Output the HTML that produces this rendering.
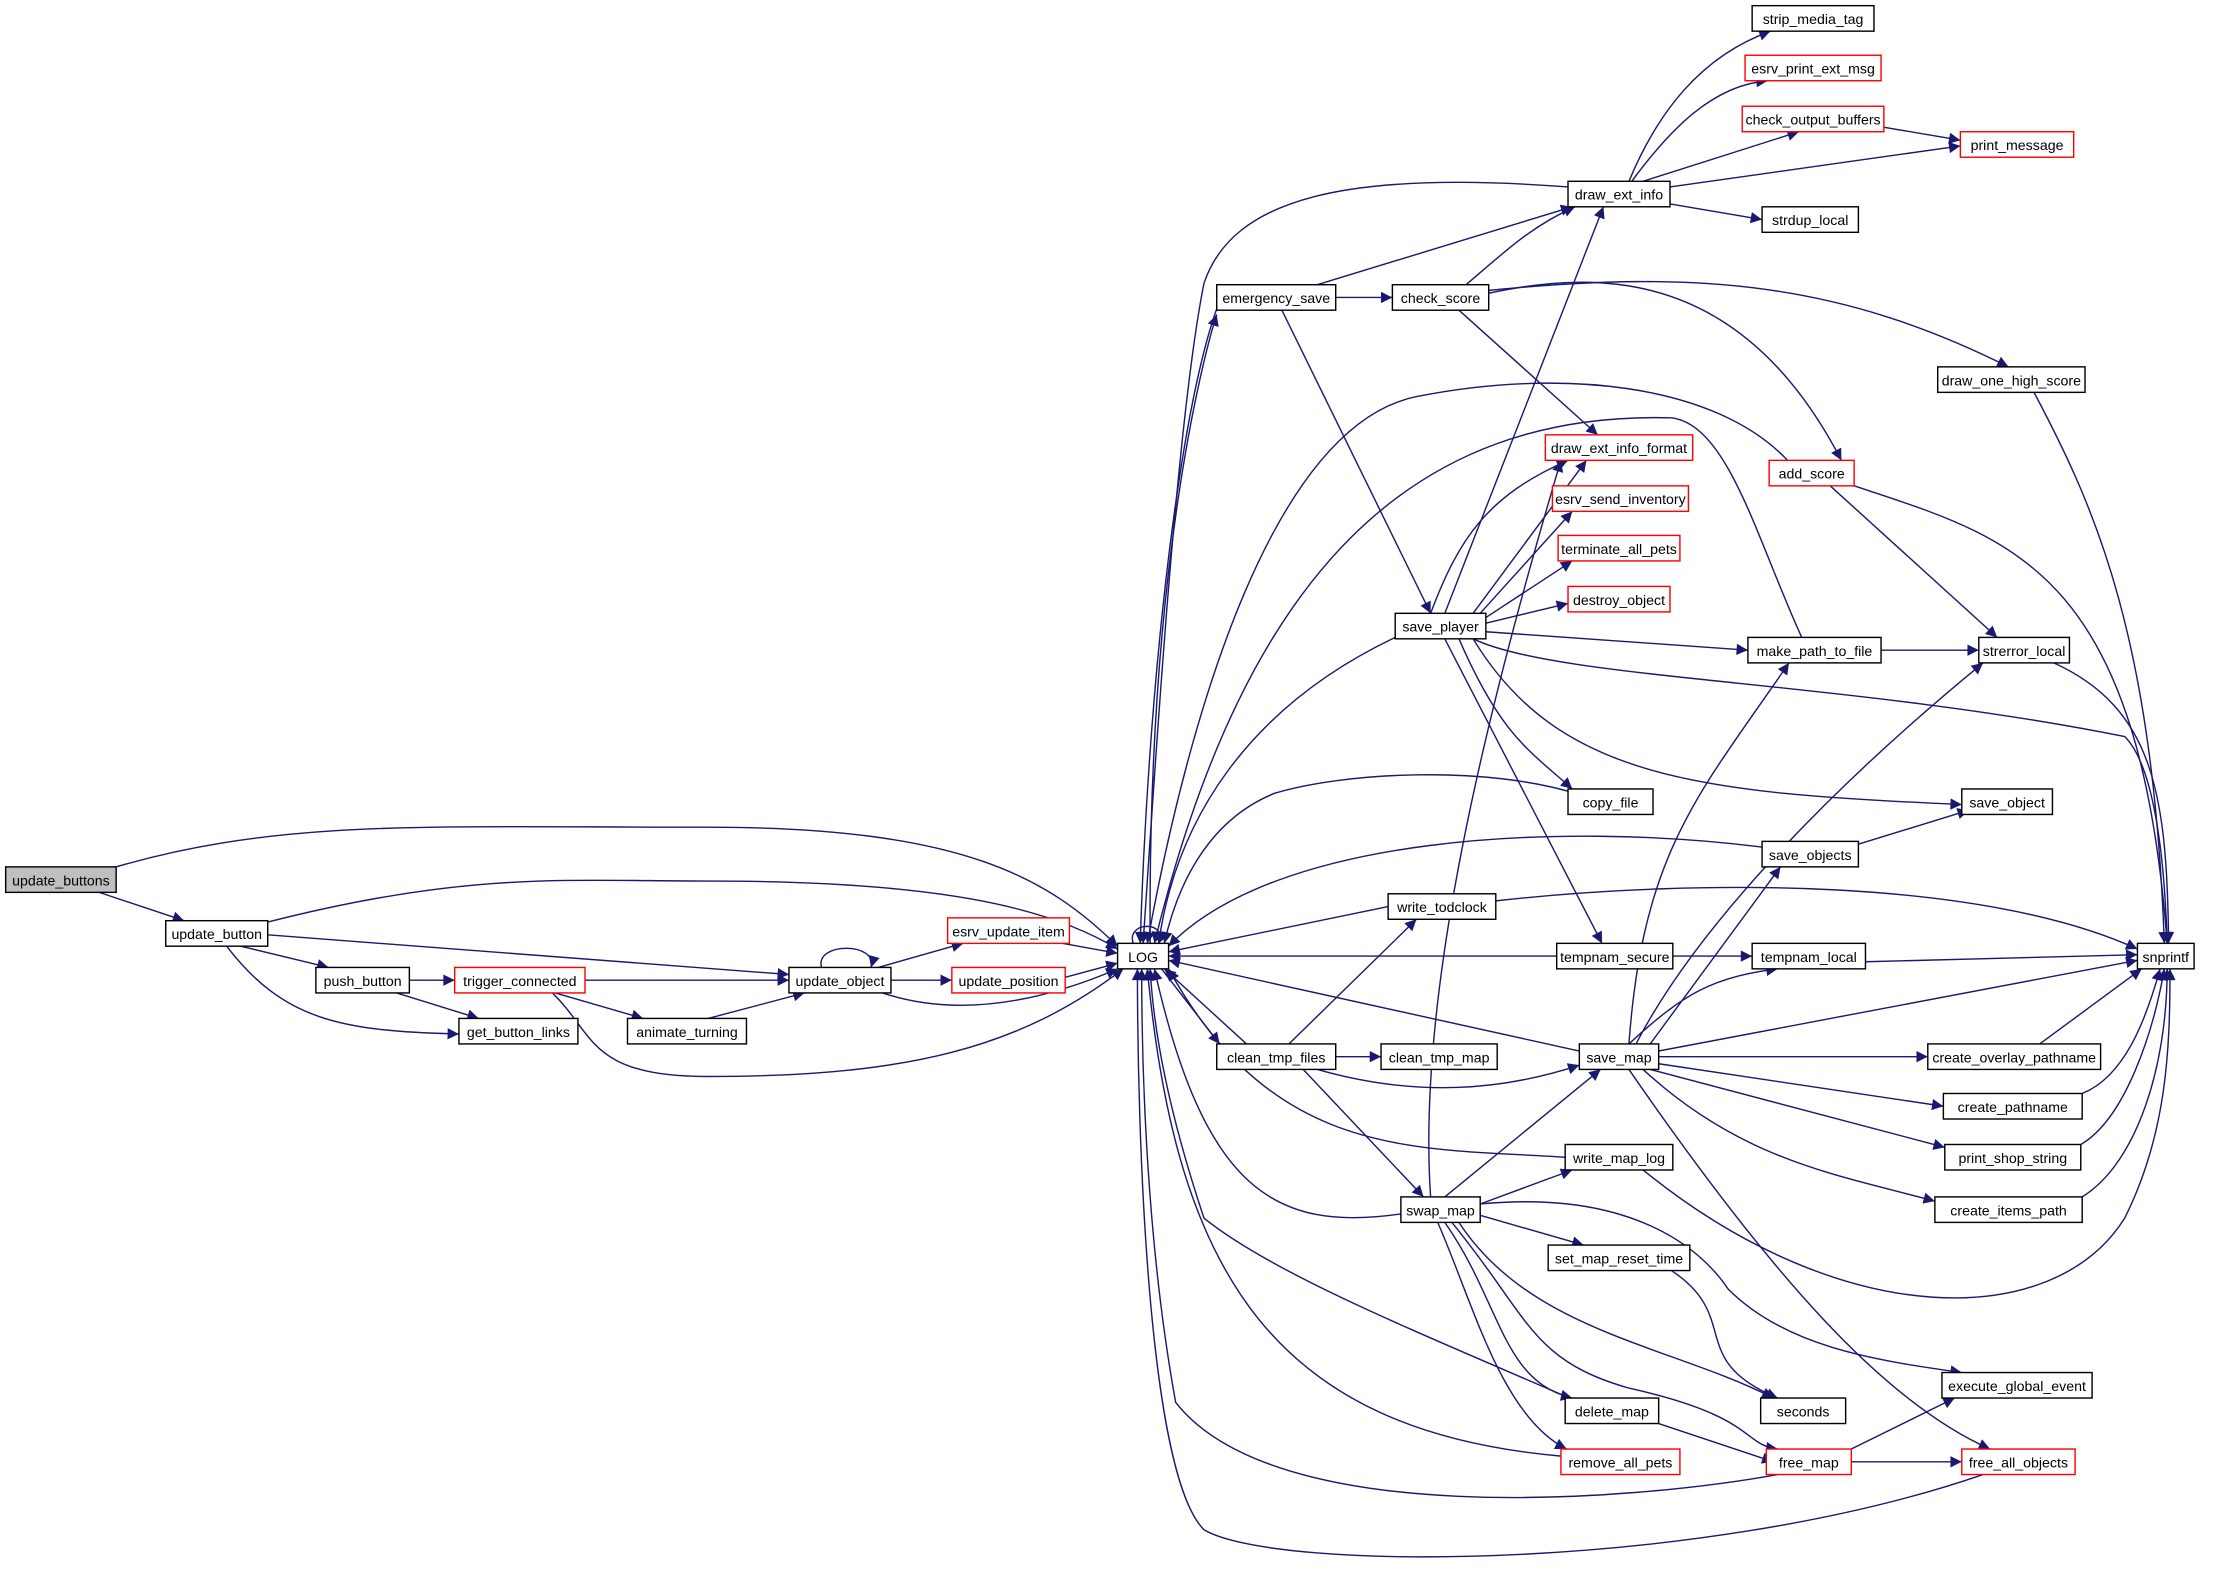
<!DOCTYPE html>
<html><head><meta charset="utf-8"><style>
html,body{margin:0;padding:0;background:#fff;}
svg{display:block;}
text{font-family:"Liberation Sans",sans-serif;font-size:10px;fill:#000;}
</style></head><body>
<svg width="2221" height="1569" viewBox="0 0 1568 1107.7" preserveAspectRatio="none" xmlns="http://www.w3.org/2000/svg">
<defs>
<marker id="a" viewBox="0 0 10 10" refX="10" refY="5" markerWidth="10" markerHeight="8" markerUnits="userSpaceOnUse" orient="auto">
<path d="M0,0 L10,5 L0,10 z" fill="#191970"/>
</marker>
</defs>
<g fill="none" stroke="#191970" stroke-width="1" marker-end="url(#a)">
<path d="M82,612 C200,578 300,584 500,584 C680,584 740,620 789,668"/>
<path d="M70,630 L130,650"/>
<path d="M189,651 C330,615 400,622 500,622 C660,622 740,640 789,670"/>
<path d="M189,660 L557,688"/>
<path d="M170,668 L232,683"/>
<path d="M160,668 C200,720 240,728 324,730"/>
<path d="M289,692 L321,692"/>
<path d="M280,701 L338,719"/>
<path d="M413,692 L557,692"/>
<path d="M392,701 L454,719"/>
<path d="M390,701 C420,730 415,760 500,760 C640,760 720,740 793,684"/>
<path d="M500,719 L568,701"/>
<path d="M580,683 C575,665 620,665 615,683"/>
<path d="M620,683 L680,666"/>
<path d="M629,692 L672,692"/>
<path d="M623,701 C680,720 740,705 789,684"/>
<path d="M750,666 L789,673"/>
<path d="M752,690 L789,680"/>
<path d="M812,666 C810,400 850,250 859,222"/>
<path d="M820,684 L861,737"/>
<path d="M800,666 C795,650 825,650 818,666"/>
<path d="M1107,132 C950,120 870,140 850,200 C830,300 815,550 807,666"/>
<path d="M859,218 C830,300 810,500 805,666"/>
<path d="M1262,325 C1210,270 1100,260 1000,280 C900,300 840,500 810,666"/>
<path d="M1272,450 C1240,380 1220,300 1180,295 C1000,290 880,400 815,666"/>
<path d="M985,450 C880,500 830,580 818,666"/>
<path d="M1115,561 C1050,540 950,545 900,560 C850,580 830,630 822,666"/>
<path d="M1244,598 C1100,580 900,590 825,668"/>
<path d="M980,640 L825,672"/>
<path d="M1099,675 L825,675"/>
<path d="M1115,742 L825,678"/>
<path d="M880,737 L822,684"/>
<path d="M1105,817 C1000,810 900,820 825,684"/>
<path d="M989,857 C900,870 850,840 815,684"/>
<path d="M1108,987 C1000,940 900,900 850,860 C830,800 815,740 812,684"/>
<path d="M1102,1028 C900,1010 830,900 810,684"/>
<path d="M1255,1041 C1150,1060 900,1080 830,990 C810,880 806,760 806,684"/>
<path d="M1400,1041 C1200,1110 900,1110 850,1080 C810,1040 803,800 803,684"/>
<path d="M930,201 L1110,146"/>
<path d="M943,210 L983,210"/>
<path d="M905,219 L1010,433"/>
<path d="M1035,201 C1060,180 1080,160 1112,146"/>
<path d="M1030,219 L1128,307"/>
<path d="M1051,207 C1130,190 1230,190 1300,325"/>
<path d="M1051,205 C1200,190 1300,200 1418,259"/>
<path d="M1150,128 C1170,80 1200,40 1250,22"/>
<path d="M1152,128 C1180,90 1210,60 1248,57"/>
<path d="M1160,128 L1270,93"/>
<path d="M1179,132 L1384,103"/>
<path d="M1179,144 L1244,155"/>
<path d="M1325,89 L1384,99"/>
<path d="M1020,433 L1132,146"/>
<path d="M1010,433 C1030,380 1050,350 1107,325"/>
<path d="M1040,433 L1120,325"/>
<path d="M1045,433 L1110,361"/>
<path d="M1049,436 L1110,396"/>
<path d="M1049,440 L1107,426"/>
<path d="M1049,446 L1234,459"/>
<path d="M1040,451 C1100,480 1300,480 1500,520 C1520,540 1528,600 1530,666"/>
<path d="M1040,451 C1100,550 1200,560 1385,568"/>
<path d="M1030,451 C1060,520 1080,530 1110,557"/>
<path d="M1020,451 L1131,666"/>
<path d="M1328,459 L1397,459"/>
<path d="M1291,342 L1410,450"/>
<path d="M1309,343 C1420,380 1510,400 1530,666"/>
<path d="M1436,277 C1480,360 1520,450 1528,666"/>
<path d="M1450,468 C1520,500 1530,560 1531,666"/>
<path d="M1312,596 L1390,572"/>
<path d="M1056,636 C1200,620 1400,620 1509,670"/>
<path d="M1181,675 L1237,675"/>
<path d="M1317,679 L1509,674"/>
<path d="M943,746 L975,746"/>
<path d="M910,737 L1000,649"/>
<path d="M930,755 C1000,775 1060,770 1115,752"/>
<path d="M920,755 L1005,845"/>
<path d="M1150,737 C1160,600 1200,560 1263,468"/>
<path d="M1155,737 C1200,650 1300,550 1400,468"/>
<path d="M1165,737 L1257,612"/>
<path d="M1150,737 C1190,700 1210,690 1255,684"/>
<path d="M1171,742 L1509,678"/>
<path d="M1171,746 L1361,746"/>
<path d="M1171,751 L1372,781"/>
<path d="M1165,755 L1373,810"/>
<path d="M1160,755 C1230,820 1300,830 1366,848"/>
<path d="M1150,755 C1250,900 1330,990 1405,1023"/>
<path d="M1440,737 L1512,684"/>
<path d="M1470,772 C1500,760 1515,720 1525,684"/>
<path d="M1469,808 C1500,790 1520,730 1528,684"/>
<path d="M1470,845 C1510,820 1530,750 1530,684"/>
<path d="M1160,826 C1300,940 1450,940 1500,860 C1530,800 1532,740 1532,684"/>
<path d="M1010,845 C1000,700 1050,500 1102,325"/>
<path d="M1020,845 L1130,755"/>
<path d="M1045,850 L1110,826"/>
<path d="M1045,858 L1118,879"/>
<path d="M1045,850 C1150,840 1200,880 1220,910 C1260,950 1320,960 1385,969"/>
<path d="M1030,863 C1080,940 1180,950 1252,987"/>
<path d="M1020,863 C1060,920 1060,975 1110,987"/>
<path d="M1015,863 C1040,920 1060,1000 1106,1023"/>
<path d="M1025,863 C1080,930 1080,960 1150,980 C1240,1000 1230,1020 1255,1023"/>
<path d="M1180,897 C1230,930 1190,960 1255,987"/>
<path d="M1171,1005 L1252,1032"/>
<path d="M1307,1023 L1380,987"/>
<path d="M1307,1032 L1385,1032"/>
</g>
<g stroke-width="1">
<rect x="4" y="612" width="78" height="18" fill="#bfbfbf" stroke="#000"/>
<g fill="#fff" stroke="#000">
<rect x="117" y="650" width="72" height="18"/>
<rect x="223" y="683" width="66" height="18"/>
<rect x="324" y="719" width="84" height="18"/>
<rect x="443" y="719" width="84" height="18"/>
<rect x="557" y="683" width="72" height="18"/>
<rect x="789" y="666" width="36" height="18"/>
<rect x="859" y="201" width="84" height="18"/>
<rect x="983" y="201" width="68" height="18"/>
<rect x="1107" y="128" width="72" height="18"/>
<rect x="1237" y="4" width="86" height="18"/>
<rect x="1244" y="146" width="68" height="18"/>
<rect x="1368" y="259" width="104" height="18"/>
<rect x="985" y="433" width="64" height="18"/>
<rect x="1234" y="450" width="94" height="18"/>
<rect x="1397" y="450" width="64" height="18"/>
<rect x="1107" y="557" width="60" height="18"/>
<rect x="1385" y="557" width="64" height="18"/>
<rect x="1244" y="594" width="68" height="18"/>
<rect x="980" y="631" width="76" height="18"/>
<rect x="1099" y="666" width="82" height="18"/>
<rect x="1237" y="666" width="80" height="18"/>
<rect x="1509" y="666" width="40" height="18"/>
<rect x="859" y="737" width="84" height="18"/>
<rect x="975" y="737" width="82" height="18"/>
<rect x="1115" y="737" width="56" height="18"/>
<rect x="1361" y="737" width="122" height="18"/>
<rect x="1372" y="772" width="98" height="18"/>
<rect x="1105" y="808" width="76" height="18"/>
<rect x="1373" y="808" width="96" height="18"/>
<rect x="989" y="845" width="56" height="18"/>
<rect x="1366" y="845" width="104" height="18"/>
<rect x="1093" y="879" width="100" height="18"/>
<rect x="1371" y="969" width="106" height="18"/>
<rect x="1243" y="987" width="60" height="18"/>
<rect x="1105" y="987" width="66" height="18"/>
</g>
<g fill="#fff" stroke="#ff0000">
<rect x="321" y="683" width="92" height="18"/>
<rect x="669" y="648" width="86" height="18"/>
<rect x="672" y="683" width="80" height="18"/>
<rect x="1232" y="39" width="96" height="18"/>
<rect x="1230" y="75" width="100" height="18"/>
<rect x="1384" y="93" width="80" height="18"/>
<rect x="1249" y="325" width="60" height="18"/>
<rect x="1091" y="307" width="104" height="18"/>
<rect x="1096" y="343" width="96" height="18"/>
<rect x="1100" y="378" width="86" height="18"/>
<rect x="1107" y="414" width="72" height="18"/>
<rect x="1102" y="1023" width="84" height="18"/>
<rect x="1247" y="1023" width="60" height="18"/>
<rect x="1385" y="1023" width="80" height="18"/>
</g>
</g>
<g text-anchor="middle">
<text x="43" y="625">update_buttons</text>
<text x="153" y="663">update_button</text>
<text x="256" y="696">push_button</text>
<text x="367" y="696">trigger_connected</text>
<text x="366" y="732">get_button_links</text>
<text x="485" y="732">animate_turning</text>
<text x="593" y="696">update_object</text>
<text x="712" y="661">esrv_update_item</text>
<text x="712" y="696">update_position</text>
<text x="807" y="679">LOG</text>
<text x="901" y="214">emergency_save</text>
<text x="1017" y="214">check_score</text>
<text x="1143" y="141">draw_ext_info</text>
<text x="1280" y="17">strip_media_tag</text>
<text x="1280" y="52">esrv_print_ext_msg</text>
<text x="1280" y="88">check_output_buffers</text>
<text x="1424" y="106">print_message</text>
<text x="1278" y="159">strdup_local</text>
<text x="1420" y="272">draw_one_high_score</text>
<text x="1279" y="338">add_score</text>
<text x="1143" y="320">draw_ext_info_format</text>
<text x="1144" y="356">esrv_send_inventory</text>
<text x="1143" y="391">terminate_all_pets</text>
<text x="1143" y="427">destroy_object</text>
<text x="1017" y="446">save_player</text>
<text x="1281" y="463">make_path_to_file</text>
<text x="1429" y="463">strerror_local</text>
<text x="1137" y="570">copy_file</text>
<text x="1417" y="570">save_object</text>
<text x="1278" y="607">save_objects</text>
<text x="1018" y="644">write_todclock</text>
<text x="1140" y="679">tempnam_secure</text>
<text x="1277" y="679">tempnam_local</text>
<text x="1529" y="679">snprintf</text>
<text x="901" y="750">clean_tmp_files</text>
<text x="1016" y="750">clean_tmp_map</text>
<text x="1143" y="750">save_map</text>
<text x="1422" y="750">create_overlay_pathname</text>
<text x="1421" y="785">create_pathname</text>
<text x="1143" y="821">write_map_log</text>
<text x="1421" y="821">print_shop_string</text>
<text x="1017" y="858">swap_map</text>
<text x="1418" y="858">create_items_path</text>
<text x="1143" y="892">set_map_reset_time</text>
<text x="1424" y="982">execute_global_event</text>
<text x="1273" y="1000">seconds</text>
<text x="1138" y="1000">delete_map</text>
<text x="1144" y="1036">remove_all_pets</text>
<text x="1277" y="1036">free_map</text>
<text x="1425" y="1036">free_all_objects</text>
</g>
</svg>
</body></html>
